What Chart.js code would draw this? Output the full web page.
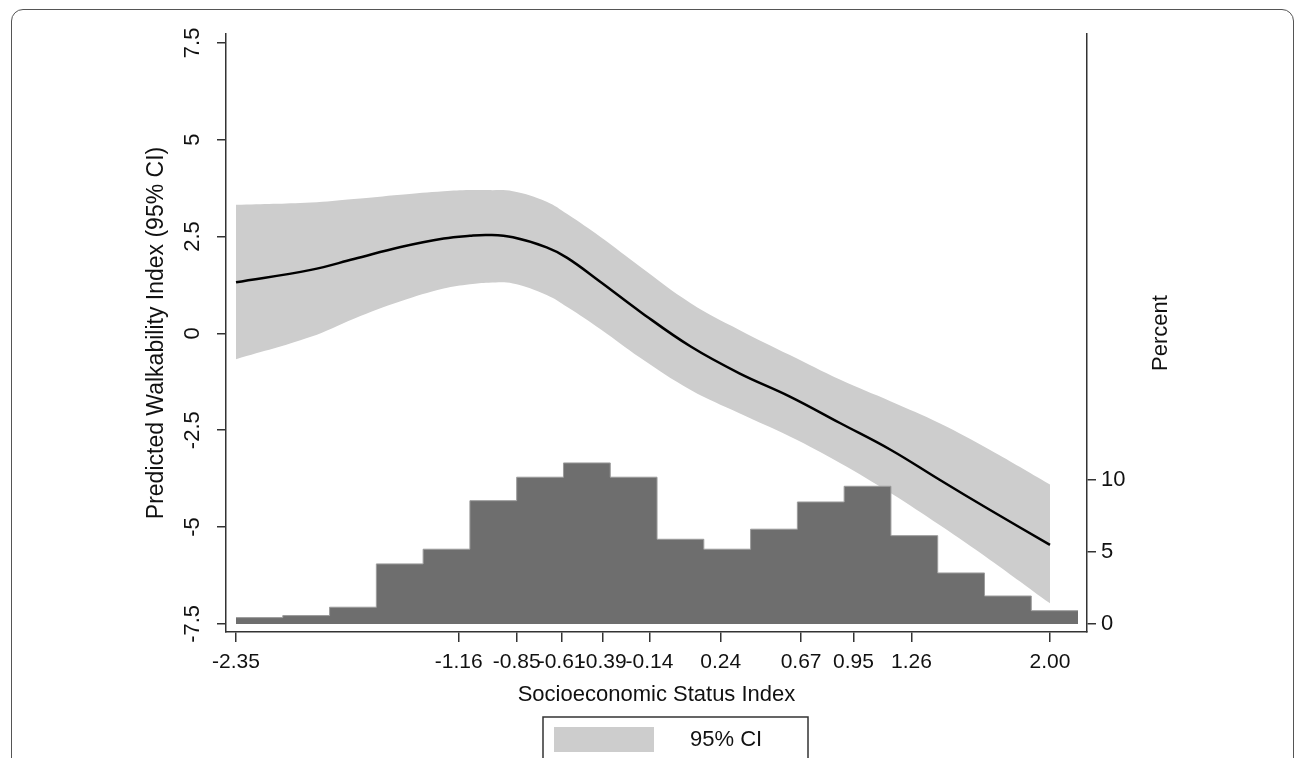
<!DOCTYPE html>
<html>
<head>
<meta charset="utf-8">
<script src="https://cdn.jsdelivr.net/npm/chart.js@4"></script>
<style>
  html, body { margin: 0; padding: 0; background: #fff; overflow: hidden; }
  #wrap { position: relative; width: 1295px; height: 758px; }
  #frame { position: absolute; left: 11px; top: 9px; width: 1283px; height: 820px;
           border: 1.5px solid #555; border-radius: 12px; box-sizing: border-box; }
  canvas { position: absolute; left: 0; top: 0; }
</style>
</head>
<body>
<div id="wrap">
  <div id="frame"></div>
  <canvas id="chart" width="1295" height="758"></canvas>
</div>
<script>
// fitted curve + 95% CI
const sesX    = [-2.35, -1.95, -1.72, -1.47, -1.24, -1.1, -1.0, -0.87, -0.69, -0.58, -0.4, -0.19, 0.08, 0.34, 0.61, 0.88, 1.15, 1.41, 1.68, 2.0];
const fitY    = [1.32, 1.64, 1.92, 2.23, 2.45, 2.52, 2.54, 2.48, 2.22, 1.95, 1.32, 0.56, -0.34, -1.03, -1.63, -2.32, -3.01, -3.78, -4.56, -5.46];
const ciUpper = [3.32, 3.38, 3.47, 3.58, 3.67, 3.70, 3.70, 3.67, 3.40, 3.08, 2.48, 1.72, 0.78, 0.09, -0.56, -1.20, -1.76, -2.32, -3.01, -3.90];
const ciLower = [-0.67, -0.09, 0.38, 0.83, 1.16, 1.27, 1.31, 1.29, 0.99, 0.68, 0.10, -0.63, -1.46, -2.06, -2.66, -3.35, -4.13, -4.95, -5.85, -6.97];

// histogram of SES (percent per bin)
const binEdges   = [-2.35, -2.10, -1.85, -1.60, -1.35, -1.10, -0.85, -0.60, -0.35, -0.10, 0.15, 0.40, 0.65, 0.90, 1.15, 1.40, 1.65, 1.90, 2.15];
const binPercent = [0.44, 0.58, 1.16, 4.17, 5.19, 8.56, 10.19, 11.18, 10.19, 5.88, 5.19, 6.58, 8.47, 9.56, 6.13, 3.54, 1.94, 0.92];

// tick labels
const xTicks   = [-2.35, -1.16, -0.85, -0.61, -0.39, -0.14, 0.24, 0.67, 0.95, 1.26, 2.00];
const yTicks   = [-7.5, -5, -2.5, 0, 2.5, 5, 7.5];
const pctTicks = [0, 5, 10];

const FONT = '"Liberation Sans", Arial, sans-serif';
Chart.defaults.font.family = FONT;
Chart.defaults.color = '#111';

const toPts = (xs, ys) => xs.map((x, i) => ({ x: x, y: ys[i] }));
const histPts = binEdges.map((e, i) => ({ x: e, y: binPercent[Math.min(i, binPercent.length - 1)] }));

const axisGrid = { display: true, drawOnChartArea: false, drawTicks: true, tickLength: 9, color: '#333', lineWidth: 1.5 };
const axisBorder = { display: true, color: '#333', width: 1.5 };

// right title reads bottom-to-top + the legend box under the x title
const extras = {
  id: 'extras',
  afterDraw(chart) {
    const ctx = chart.ctx;
    const a = chart.chartArea;
    ctx.save();
    ctx.fillStyle = '#111';
    ctx.font = '22px ' + FONT;
    ctx.textAlign = 'center';
    ctx.textBaseline = 'middle';
    ctx.translate(a.right + 74, (a.top + a.bottom) / 2);
    ctx.rotate(-Math.PI / 2);
    ctx.fillText('Percent', 0, 0);
    ctx.restore();

    const band = chart.data.datasets[0];
    const x0 = 543, y0 = 717;
    ctx.save();
    ctx.strokeStyle = '#333';
    ctx.lineWidth = 1.5;
    ctx.strokeRect(x0, y0, 265, 80);
    ctx.fillStyle = band.backgroundColor;
    ctx.fillRect(x0 + 11, y0 + 10, 100, 25);
    ctx.fillStyle = '#111';
    ctx.font = '22px ' + FONT;
    ctx.textBaseline = 'middle';
    ctx.fillText(band.label, x0 + 147, y0 + 23);
    ctx.restore();
  }
};

new Chart(document.getElementById('chart'), {
  type: 'line',
  data: {
    datasets: [
      { label: '95% CI', data: toPts(sesX, ciUpper), yAxisID: 'y', fill: '+1', backgroundColor: '#cdcdcd',
        borderWidth: 0, pointRadius: 0, tension: 0.4, order: 3 },
      { label: 'lower', data: toPts(sesX, ciLower), yAxisID: 'y', fill: false, borderWidth: 0,
        pointRadius: 0, tension: 0.4, order: 3 },
      { label: 'Percent', data: histPts, yAxisID: 'y2', stepped: true, fill: 'origin', backgroundColor: '#6e6e6e',
        borderColor: '#9c9c9c', borderWidth: 1, pointRadius: 0, order: 2 },
      { label: 'Fitted', data: toPts(sesX, fitY), yAxisID: 'y', fill: false, borderColor: '#000', borderWidth: 2.5,
        pointRadius: 0, tension: 0.4, order: 1 }
    ]
  },
  options: {
    responsive: false,
    animation: false,
    events: [],
    layout: { padding: { top: 34, right: 0, bottom: 50, left: 0 } },
    plugins: { legend: { display: false }, tooltip: { enabled: false } },
    scales: {
      x: {
        type: 'linear', min: -2.4035, max: 2.1978, offset: false,
        afterBuildTicks: s => { s.ticks = xTicks.map(v => ({ value: v })); },
        afterFit: s => { s.height = 76; },
        grid: Object.assign({}, axisGrid, { tickLength: 10 }),
        border: axisBorder,
        ticks: { autoSkip: false, minRotation: 0, maxRotation: 0, padding: 8, font: { size: 21 },
                 callback: v => Number(v).toFixed(2) },
        title: { display: true, text: 'Socioeconomic Status Index', font: { size: 22 }, padding: { top: 0, bottom: 0 } }
      },
      y: {
        type: 'linear', position: 'left', min: -7.71, max: 7.73,
        afterBuildTicks: s => { s.ticks = yTicks.map(v => ({ value: v })); },
        afterFit: s => { s.width = 226; },
        grid: axisGrid,
        border: axisBorder,
        ticks: { minRotation: 90, maxRotation: 90, crossAlign: 'center', padding: 5, font: { size: 22 },
                 callback: v => String(v) },
        title: { display: true, text: 'Predicted Walkability Index (95% CI)', font: { size: 23 },
                 padding: { top: 143, bottom: 0 } }
      },
      y2: {
        type: 'linear', position: 'right', min: -0.56, max: 40.97,
        afterBuildTicks: s => { s.ticks = pctTicks.map(v => ({ value: v })); },
        afterFit: s => { s.width = 208; },
        grid: axisGrid,
        border: axisBorder,
        ticks: { padding: 5, font: { size: 22 }, callback: v => String(v) }
      }
    }
  },
  plugins: [extras]
});
</script>
</body>
</html>
